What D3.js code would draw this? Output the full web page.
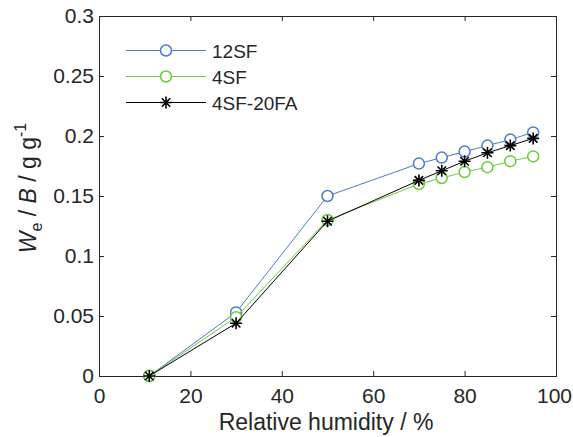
<!DOCTYPE html>
<html><head><meta charset="utf-8">
<script src="https://cdn.jsdelivr.net/npm/d3@7"></script>
<style>body{margin:0;background:#fff;} svg{display:block;} text{font-family:"Liberation Sans",Arial,sans-serif;fill:#262626;}</style>
</head><body>
<svg id="c" width="573" height="437"></svg>
<script>
const humidity = [11, 30, 50, 70, 75, 80, 85, 90, 95];
const sf12 = [0, 0.053, 0.150, 0.177, 0.182, 0.187, 0.192, 0.197, 0.203];
const sf4 = [0, 0.049, 0.130, 0.160, 0.165, 0.170, 0.174, 0.179, 0.183];
const sf4fa20 = [0, 0.044, 0.129, 0.163, 0.171, 0.179, 0.186, 0.192, 0.198];
const seriesNames = ["12SF", "4SF", "4SF-20FA"];
const xTicks = [0, 20, 40, 60, 80, 100];
const yTicks = [0, 0.05, 0.1, 0.15, 0.2, 0.25, 0.3];
const yTickLabels = ["0", "0.05", "0.1", "0.15", "0.2", "0.25", "0.3"];

const svg = d3.select("#c");
const L = 99, R = 556, T = 16, B = 376;
const x = d3.scaleLinear().domain([0, 100]).range([L, R]);
const y = d3.scaleLinear().domain([0, 0.3]).range([B, T]);
const axisColor = "#262626";

const series = [
  {name: seriesNames[0], vals: sf12, color: "#4a7bd0", marker: "circle"},
  {name: seriesNames[1], vals: sf4, color: "#6ccb3e", marker: "circle"},
  {name: seriesNames[2], vals: sf4fa20, color: "#000000", marker: "star"}
];

// axes
const tl = 5;
const gx = svg.append("g").attr("transform", `translate(0,${B})`)
  .call(d3.axisBottom(x).tickValues(xTicks).tickSize(-tl).tickPadding(12).tickFormat(d3.format("d")));
const gxt = svg.append("g").attr("transform", `translate(0,${T})`)
  .call(d3.axisTop(x).tickValues(xTicks).tickSize(-tl).tickFormat(""));
const gy = svg.append("g").attr("transform", `translate(${L},0)`)
  .call(d3.axisLeft(y).tickValues(yTicks).tickSize(-tl).tickPadding(5).tickFormat((d, i) => yTickLabels[i]));
const gyr = svg.append("g").attr("transform", `translate(${R},0)`)
  .call(d3.axisRight(y).tickValues(yTicks).tickSize(-tl).tickFormat(""));
[gx, gxt, gy, gyr].forEach(g => {
  g.select(".domain").attr("stroke", axisColor).attr("stroke-width", 1);
  g.selectAll(".tick line").attr("stroke", axisColor);
  g.selectAll(".tick text").attr("font-size", 21).attr("fill", axisColor)
    .style("font-family", '"Liberation Sans",Arial,sans-serif');
});
gx.selectAll(".tick text").filter(d => d === 100).attr("dx", -2);

// lines + markers
const line = d3.line().x((d, i) => x(humidity[i])).y(d => y(d));
const starPath = r => {
  const a = r * Math.SQRT1_2;
  return `M${-r},0L${r},0M0,${-r}L0,${r}M${-a},${-a}L${a},${a}M${-a},${a}L${a},${-a}`;
};
function drawMarker(g, s, cx, cy) {
  if (s.marker === "circle") {
    g.append("circle").attr("cx", cx).attr("cy", cy).attr("r", 5.5)
      .attr("fill", "#fff").attr("stroke", s.color).attr("stroke-width", 1.5);
  } else {
    g.append("path").attr("d", starPath(6)).attr("transform", `translate(${cx},${cy})`)
      .attr("stroke", s.color).attr("stroke-width", 1.6).attr("fill", "none");
  }
}
series.forEach(s => {
  const g = svg.append("g");
  g.append("path").datum(s.vals).attr("d", line).attr("fill", "none")
    .attr("stroke", s.color).attr("stroke-width", 1);
  s.vals.forEach((v, i) => drawMarker(g, s, x(humidity[i]), y(v)));
});

// legend
const lg = svg.append("g");
series.forEach((s, i) => {
  const ly = 50.5 + i * 26;
  lg.append("line").attr("x1", 126).attr("x2", 206).attr("y1", ly).attr("y2", ly)
    .attr("stroke", s.color).attr("stroke-width", 1);
  drawMarker(lg, s, 166, ly);
  lg.append("text").attr("x", 212).attr("y", ly + 7).attr("font-size", 19).text(s.name);
});

// axis labels
svg.append("text").attr("x", 326).attr("y", 430).attr("text-anchor", "middle")
  .attr("font-size", 23).text("Relative humidity / %");
const yl = svg.append("text").attr("transform", "translate(35.5,188) rotate(-90)")
  .attr("text-anchor", "middle").attr("font-size", 23);
yl.append("tspan").attr("font-style", "italic").text("W");
yl.append("tspan").attr("font-size", 16).attr("dy", 6).text("e");
yl.append("tspan").attr("dy", -6).text(" / ");
yl.append("tspan").attr("font-style", "italic").text("B");
yl.append("tspan").text(" / g g");
yl.append("tspan").attr("font-size", 16).attr("dy", -10).text("-1");
</script>
</body></html>
